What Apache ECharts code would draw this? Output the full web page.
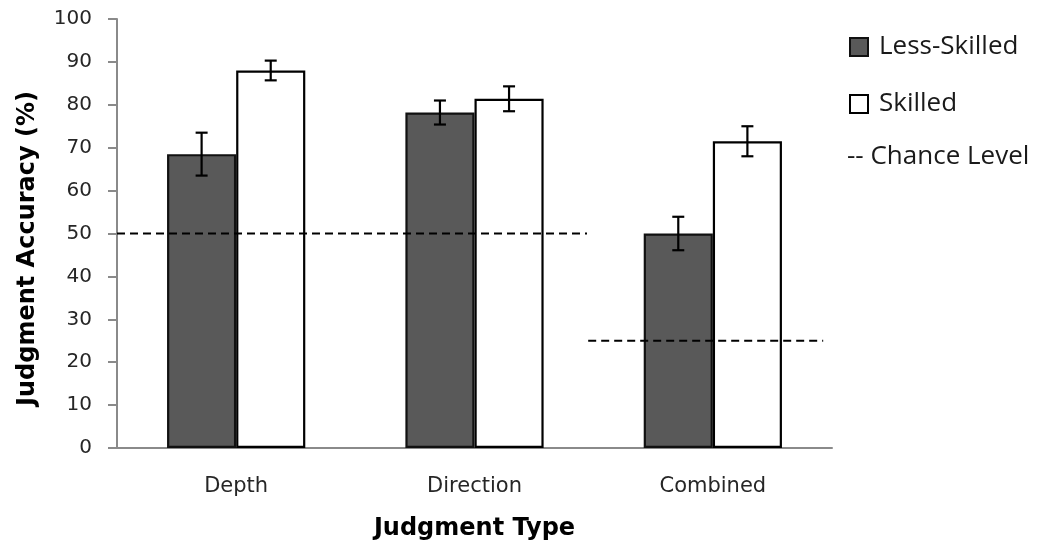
<!DOCTYPE html>
<html>
<head>
<meta charset="utf-8">
<script src="https://cdn.jsdelivr.net/npm/echarts@6/dist/echarts.min.js"></script>
<style>
html,body{margin:0;padding:0;background:#fff;}
#chart{width:1048px;height:546px;}
</style>
</head>
<body>
<div id="chart"></div>
<script>
// ---- data ----
const categories = ['Depth', 'Direction', 'Combined'];
const lessSkilled = [68.5, 78.2, 50.0];
const skilled = [88.0, 81.4, 71.5];
const lessSkilledErr = [5.0, 2.8, 3.9];
const skilledErr = [2.3, 2.9, 3.5];
// chance level segments: [categoryPosition, level]
const chanceSeg1 = [[0, 50], [1.972, 50]];
const chanceSeg2 = [[1.977, 25], [2.963, 25]];
const yTicks = [0, 100, 10];

const CAT_GAP = 0.42;
const chart = echarts.init(document.getElementById('chart'));

function errorSeries(name, values, errs, side) {
  return {
    type: 'custom',
    name: name + ' err',
    xAxisIndex: 0, yAxisIndex: 0,
    z: 10,
    silent: true,
    data: values.map((v, i) => [i, v - errs[i], v + errs[i]]),
    renderItem: function (params, api) {
      const catW = api.size([1, 0])[0];
      const bw = catW * (1 - CAT_GAP) / 2;
      const off = side * bw / 2;
      const lo = api.coord([api.value(0), api.value(1)]);
      const hi = api.coord([api.value(0), api.value(2)]);
      const x = lo[0] + off;
      const cap = 6;
      const st = { stroke: '#000', lineWidth: 2.2 };
      return {
        type: 'group',
        children: [
          { type: 'line', shape: { x1: x, y1: lo[1], x2: x, y2: hi[1] }, style: st },
          { type: 'line', shape: { x1: x - cap, y1: lo[1], x2: x + cap, y2: lo[1] }, style: st },
          { type: 'line', shape: { x1: x - cap, y1: hi[1], x2: x + cap, y2: hi[1] }, style: st }
        ]
      };
    }
  };
}

const axisGray = '#8a8a8a';
const legendText = { fontFamily: 'Open Sans', fontSize: 26, color: '#1a1a1a' };
const option = {
  animation: false,
  backgroundColor: '#fff',
  grid: { left: 117, right: 216, top: 19, bottom: 97, containLabel: false },
  legend: [
    {
      orient: 'vertical', left: 849, top: 34, padding: 0,
      itemWidth: 18, itemHeight: 18, itemGap: 31, icon: 'rect',
      data: ['Less-Skilled', 'Skilled'],
      textStyle: Object.assign({ padding: [0, 0, 0, 6] }, legendText)
    },
    {
      orient: 'vertical', left: 842, top: 144, padding: 0,
      itemWidth: 0, itemHeight: 18, icon: 'none',
      data: ['-- Chance Level'],
      textStyle: legendText
    }
  ],
  xAxis: [
    {
      type: 'category', data: categories,
      name: 'Judgment Type', nameLocation: 'middle', nameGap: 69,
      nameTextStyle: { fontFamily: 'DejaVu Sans', fontWeight: 'bold', fontSize: 24, color: '#000' },
      axisLine: { lineStyle: { color: axisGray, width: 2 } },
      axisTick: { length: 9, lineStyle: { color: axisGray, width: 2 } },
      axisLabel: { margin: 28, fontFamily: 'DejaVu Sans', fontSize: 21, color: '#262626' },
      splitLine: { show: false }
    },
    {
      type: 'value', min: 0, max: 3, show: false
    }
  ],
  yAxis: {
    type: 'value', min: yTicks[0], max: yTicks[1], interval: yTicks[2],
    name: 'Judgment Accuracy (%)', nameLocation: 'middle', nameGap: 77, nameRotate: 90,
    nameTextStyle: { fontFamily: 'DejaVu Sans', fontWeight: 'bold', fontSize: 24, color: '#000', padding: [0, 30, 0, 0] },
    axisLine: { show: true, lineStyle: { color: axisGray, width: 2 } },
    axisTick: { show: true, length: 9, lineStyle: { color: axisGray, width: 2 } },
    axisLabel: { margin: 25, fontFamily: 'DejaVu Sans', fontSize: 20, color: '#262626' },
    splitLine: { show: false }
  },
  series: [
    {
      type: 'bar', name: 'Less-Skilled', data: lessSkilled,
      barGap: '0%', barCategoryGap: (CAT_GAP * 100) + '%',
      itemStyle: { color: '#595959', borderColor: '#111', borderWidth: 2.2 }
    },
    {
      type: 'bar', name: 'Skilled', data: skilled,
      barGap: '0%', barCategoryGap: (CAT_GAP * 100) + '%',
      itemStyle: { color: '#ffffff', borderColor: '#000', borderWidth: 2.2 }
    },
    errorSeries('Less-Skilled', lessSkilled, lessSkilledErr, -1),
    errorSeries('Skilled', skilled, skilledErr, 1),
    {
      type: 'line', name: '-- Chance Level', xAxisIndex: 1, yAxisIndex: 0,
      data: chanceSeg1, symbol: 'none', z: 11,
      lineStyle: { color: '#000', width: 2, type: [8, 5] },
      itemStyle: { color: '#000' }
    },
    {
      type: 'line', name: '-- Chance Level', xAxisIndex: 1, yAxisIndex: 0,
      data: chanceSeg2, symbol: 'none', z: 11,
      lineStyle: { color: '#000', width: 2, type: [8, 5] },
      itemStyle: { color: '#000' }
    }
  ]
};
chart.setOption(option);
</script>
</body>
</html>
